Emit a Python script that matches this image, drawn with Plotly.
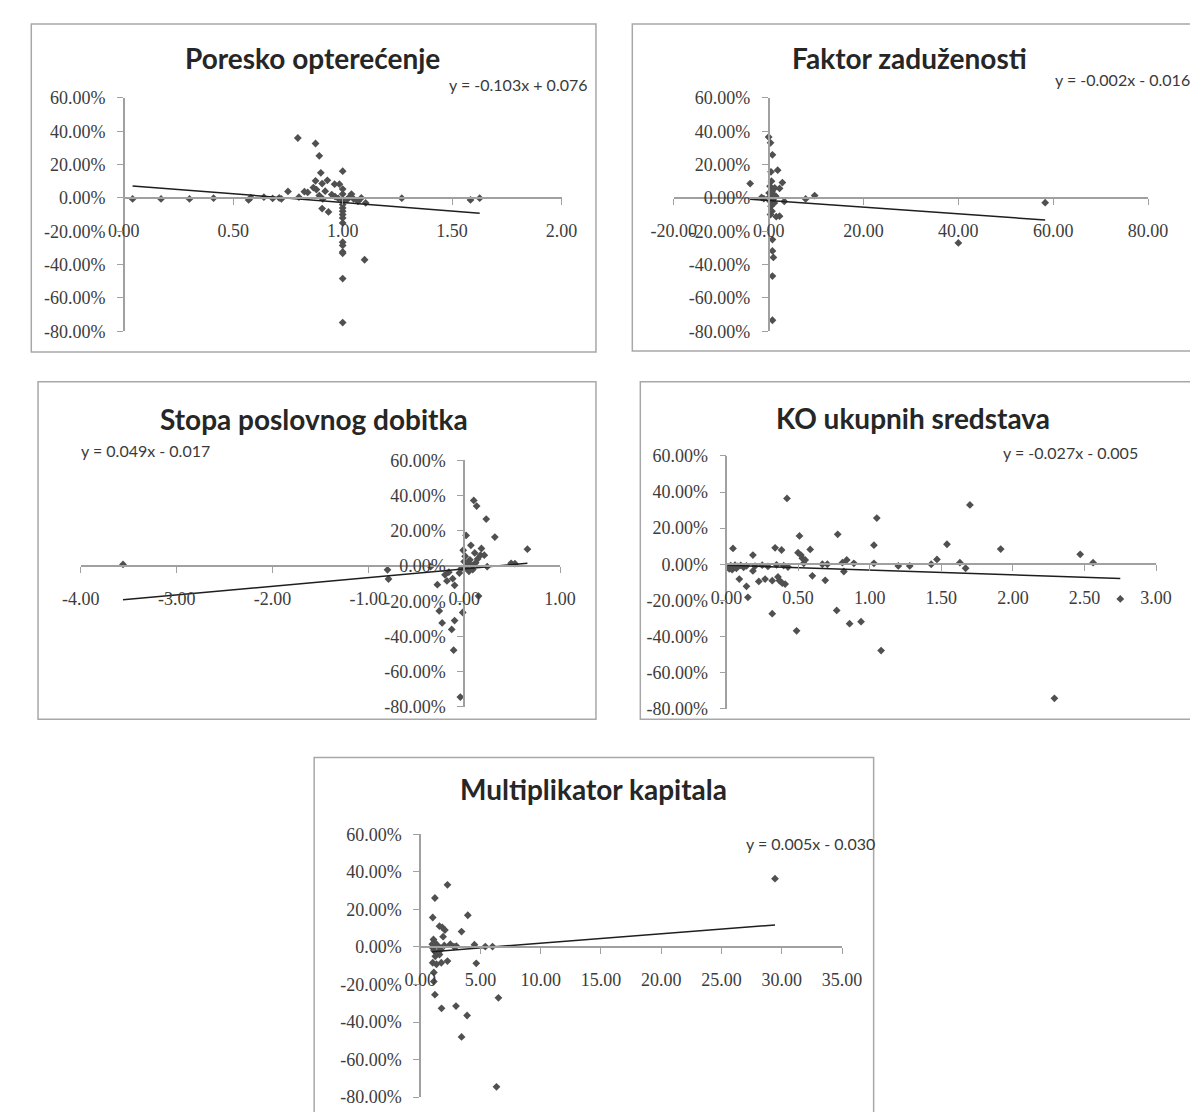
import plotly.graph_objects as go

W, H = 1198, 1112

# ---------------- data ----------------
titles = ["Poresko opterećenje", "Faktor zaduženosti", "Stopa poslovnog dobitka",
          "KO ukupnih sredstava", "Multiplikator kapitala"]
equations = ["y = -0.103x + 0.076", "y = -0.002x - 0.016", "y = 0.049x - 0.017",
             "y = -0.027x - 0.005", "y = 0.005x - 0.030"]
slopes = [-0.103, -0.002, 0.049, -0.027, 0.005]
intercepts = [0.076, -0.016, -0.017, -0.005, -0.030]

p1_x = [0.04, 0.17, 0.30, 0.41, 0.57, 0.58, 0.64, 0.68, 0.71, 0.72, 0.75, 0.80, 0.795, 0.876, 0.893,
        0.90, 0.876, 0.93, 0.906, 0.866, 0.84, 0.825, 0.963, 0.985, 0.893, 0.909, 0.906, 0.935, 0.95,
        0.965, 0.88, 0.92, 1.0, 1.0, 1.0, 1.0, 1.0, 1.0, 1.0, 1.0, 1.0, 1.0, 1.0, 1.0, 1.0, 1.0, 1.0,
        1.0, 1.10, 1.03, 1.05, 1.07, 1.085, 1.105, 1.04, 1.27, 1.584, 1.626, 0.98, 1.02]
p1_y = [-0.6, -0.6, -0.6, -0.2, -1.2, 0.2, 0.4, -0.3, 0.0, -0.6, 3.9, 0.4, 35.9, 32.6, 25.2,
        15.0, 10.2, 10.5, 8.6, 6.2, 3.3, 3.7, 8.2, 8.2, 1.4, -0.6, -6.4, -8.4, 2.0,
        0.8, 5.0, 4.0, 16.0, 5.3, 2.3, -1.6, -4.0, -6.0, -8.0, -10.0, -12.0, -15.0, -26.6, -28.5, -32.4, -33.2, -48.4,
        -74.8, -37.1, 0.4, -0.6, -2.1, 0.0, -3.0, 2.3, -0.2, -1.2, -0.2, -0.3, -1.0]

p2_x = [-3.9, 0.0, 0.4, 0.8, 1.9, 0.5, 2.9, 2.3, 0.6, 0.3, 0.7, 1.0, 0.2, 0.9, 1.2, 0.5, 0.7, 0.4,
        -1.0, -1.5, 1.5, 7.8, 9.7, 3.3, 2.3, 1.6, 0.8, 0.8, 1.0, 0.8, 0.8, 40.0, 58.3, 0.1, 0.3, 1.3]
p2_y = [8.6, 36.5, 33.0, 25.8, 16.6, 15.6, 9.2, 5.7, 10.0, 7.0, 4.0, 2.0, 0.5, -1.0, -3.0, -5.0, -8.0, -10.0,
        -0.5, 0.3, 1.0, -0.6, 1.4, -2.1, -11.0, -11.3, -25.0, -31.8, -35.7, -46.9, -73.4, -27.0, -2.9, 3.0, -2.0, 6.0]

p3_x = [-3.56, -0.80, -0.79, -0.35, -0.28, -0.26, -0.23, -0.10, -0.13, -0.11, -0.015, -0.04, -0.2, -0.16,
        -0.12, -0.1, -0.18, -0.05, -0.03, 0.10, 0.13, 0.23, 0.32, 0.02, 0.07, 0.11, 0.17, 0.18, 0.21,
        -0.01, 0.0, 0.02, 0.04, 0.06, 0.08, 0.12, 0.14, 0.09, 0.24, 0.49, 0.53, 0.66, 0.15, 0.01, 0.05]
p3_y = [0.9, -2.2, -7.4, -0.4, -10.6, -25.5, -32.3, -31.0, -36.0, -47.8, -26.4, -74.4, -5.0, -3.5,
        -7.2, -11.0, -8.5, -4.0, -1.5, 37.2, 34.0, 26.6, 16.4, 17.3, 11.7, 7.4, 6.1, 9.9, 6.1,
        8.9, 2.5, -1.0, 1.0, 3.5, 0.3, 1.8, 4.0, -2.0, -0.4, 1.5, 1.3, 9.5, -17.1, 5.5, -3.0]

p4_x = [0.046, 0.01, 0.02, 0.03, 0.04, 0.05, 0.06, 0.07, 0.08, 0.10, 0.12, 0.14, 0.09, 0.14, 0.15, 0.185,
        0.185, 0.20, 0.226, 0.25, 0.27, 0.29, 0.32, 0.32, 0.34, 0.385, 0.36, 0.37, 0.39, 0.41, 0.35, 0.40,
        0.43, 0.423, 0.49, 0.51, 0.50, 0.52, 0.53, 0.55, 0.54, 0.585, 0.60, 0.67, 0.705, 0.69, 0.77, 0.777,
        0.81, 0.84, 0.82, 0.86, 0.89, 0.94, 1.03, 1.03, 1.05, 1.08, 1.20, 1.28, 1.43, 1.47, 1.54, 1.63,
        1.67, 1.70, 1.915, 2.29, 2.47, 2.56, 2.75]
p4_y = [8.8, -1.5, -2.5, -0.8, -3.0, -1.8, -0.5, -2.2, -1.2, -0.6, -1.7, -0.9, -8.2, -12.2, -18.3, 5.1,
        -3.7, -1.0, -9.5, -0.5, -8.2, -1.2, -9.1, -27.4, 9.1, 7.9, -7.0, -9.0, -10.5, -11.0, -0.3, -0.8,
        -1.5, 36.5, -36.9, 15.7, 6.4, 5.1, 3.3, 2.4, 0.5, 8.2, -6.4, 0.0, 0.0, -8.9, -25.6, 16.6,
        0.9, 2.4, -4.0, -32.9, 0.5, -31.8, 10.6, 0.5, 25.6, -47.8, -0.9, -0.9, 0.0, 2.7, 11.1, 0.9,
        -2.2, 32.9, 8.4, -74.3, 5.5, 0.9, -19.2]

p5_x = [1.22, 1.04, 2.26, 3.95, 3.43, 1.6, 1.84, 2.05, 1.9, 1.1, 1.2, 1.3, 1.05, 1.15, 1.4, 1.25, 1.5,
        1.7, 2.0, 2.5, 2.8, 3.0, 1.04, 1.35, 1.75, 2.26, 1.13, 1.13, 1.22, 1.77, 2.97, 3.89, 3.43, 4.65,
        4.5, 5.4, 6.0, 6.49, 6.33, 29.44, 1.6, 1.0]
p5_y = [26.1, 15.7, 33.1, 16.9, 8.2, 11.1, 10.4, 9.0, 5.5, 4.0, 2.5, 1.0, -0.5, -2.0, -3.5, -5.0, 0.5,
        -1.5, 0.8, 1.5, 0.2, 0.5, -8.4, -9.2, -8.4, -7.5, -13.6, -18.4, -25.4, -32.7, -31.5, -36.5, -47.9, -8.7,
        1.2, 0.2, 0.2, -27.1, -74.5, 36.4, -4.0, 1.5]

y_tickvals = [-0.8, -0.6, -0.4, -0.2, 0.0, 0.2, 0.4, 0.6]
y_ticktext = ["-80.00%", "-60.00%", "-40.00%", "-20.00%", "0.00%", "20.00%", "40.00%", "60.00%"]

x1_ticks = [0, 0.5, 1.0, 1.5, 2.0]
x1_text = ["0.00", "0.50", "1.00", "1.50", "2.00"]
x2_ticks = [-20, 0, 20, 40, 60, 80]
x2_text = ["-20.00", "0.00", "20.00", "40.00", "60.00", "80.00"]
x3_ticks = [-4, -3, -2, -1, 0, 1]
x3_text = ["-4.00", "-3.00", "-2.00", "-1.00", "0.00", "1.00"]
x4_ticks = [0, 0.5, 1.0, 1.5, 2.0, 2.5, 3.0]
x4_text = ["0.00", "0.50", "1.00", "1.50", "2.00", "2.50", "3.00"]
x5_ticks = [0, 5, 10, 15, 20, 25, 30, 35]
x5_text = ["0.00", "5.00", "10.00", "15.00", "20.00", "25.00", "30.00", "35.00"]

xs = [p1_x, p2_x, p3_x, p4_x, p5_x]
ys = [p1_y, p2_y, p3_y, p4_y, p5_y]
xticks = [(x1_ticks, x1_text), (x2_ticks, x2_text), (x3_ticks, x3_text),
          (x4_ticks, x4_text), (x5_ticks, x5_text)]
xranges = [[0, 2], [-20, 80], [-4, 1], [0, 3], [0, 35]]

# ---------------- layout geometry (screen pixels of the reference) ----------------
OFF = 8  # page body margin added by the browser
# plot area: left / right (ends of x range), top (60%), bottom (-80%)
areas = [(104.3, 558.3, 89.3, 327.0),
         (674.7, 1166.7, 89.3, 327.0),
         (59.7, 556.7, 458.3, 709.6),
         (729.3, 1175.0, 454.0, 711.3),
         (411.7, 849.2, 839.3, 1106.9)]
boxes = [(8.3, 14, 594, 348), (631.7, 14, 1230, 347), (15.3, 378.3, 594, 722),
         (640, 378.3, 1230, 722), (301.7, 761, 882, 1140)]
title_pos = [(300, 48.3), (919.6, 49), (302, 416.7), (923, 415), (591.6, 793.3)]
eq_pos = [(588.2, 76, "right"), (1068.3, 70.7, "left"), (57.4, 448.3, "left"),
          (1013.8, 450.7, "left"), (747.3, 848.3, "left")]


def fx(p):
    return (p - OFF) / W


def fy(p):
    return 1 - (p - OFF) / H


fig = go.Figure()
TICKFONT = dict(family="Liberation Serif", size=18, color="#3c3c3c")
AXCOL = "#a0a0a0"

for i in range(5):
    n = i + 1
    sfx = "" if n == 1 else str(n)
    x = xs[i]
    y = [v / 100 for v in ys[i]]
    fig.add_trace(go.Scatter(x=x, y=y, mode="markers",
                             marker=dict(symbol="diamond", size=6, color="#505050"),
                             xaxis="x" + sfx, yaxis="y" + sfx, showlegend=False))
    x0, x1 = min(x), max(x)
    fig.add_trace(go.Scatter(x=[x0, x1],
                             y=[slopes[i] * x0 + intercepts[i], slopes[i] * x1 + intercepts[i]],
                             mode="lines", line=dict(color="#1e1e1e", width=1.5),
                             xaxis="x" + sfx, yaxis="y" + sfx, showlegend=False))
    L, R, T, B = areas[i]
    xr = xranges[i]
    yr = [-0.8, 0.6]
    zero_y_px = T + (yr[1] - 0) / (yr[1] - yr[0]) * (B - T)
    zero_x_px = L + (0 - xr[0]) / (xr[1] - xr[0]) * (R - L)
    fig.layout["xaxis" + sfx] = dict(
        domain=[fx(L), fx(R)], range=xr, anchor="free", position=fy(zero_y_px),
        showgrid=False, zeroline=False, showline=True, linecolor=AXCOL, linewidth=1.5,
        ticks="outside", ticklen=6, tickcolor=AXCOL, tickwidth=1.2,
        tickvals=xticks[i][0], ticktext=xticks[i][1], tickfont=TICKFONT,
        ticklabelstandoff=11, ticklabeloverflow="allow")
    fig.layout["yaxis" + sfx] = dict(
        domain=[fy(B), fy(T)], range=yr, anchor="free", position=fx(zero_x_px),
        showgrid=False, zeroline=False, showline=True, linecolor=AXCOL, linewidth=1.5,
        ticks="outside", ticklen=6, tickcolor=AXCOL, tickwidth=1.2,
        tickvals=y_tickvals, ticktext=y_ticktext, tickfont=TICKFONT,
        ticklabelstandoff=8, ticklabeloverflow="allow")
    bx0, by0, bx1, by1 = boxes[i]
    fig.add_shape(type="rect", xref="paper", yref="paper",
                  x0=fx(bx0), x1=fx(bx1), y0=fy(by1), y1=fy(by0),
                  line=dict(color="#a8a8a8", width=1.5), layer="below")
    tx, ty = title_pos[i]
    fig.add_annotation(x=fx(tx), y=fy(ty), xref="paper", yref="paper", text=titles[i],
                       showarrow=False, xanchor="center", yanchor="middle",
                       font=dict(family="Lato", size=28, color="#262626", weight="bold"))
    ex, ey, ea = eq_pos[i]
    fig.add_annotation(x=fx(ex), y=fy(ey), xref="paper", yref="paper", text=equations[i],
                       showarrow=False, xanchor=ea, yanchor="middle",
                       font=dict(family="Lato", size=16, color="#3a3a3a"))

fig.update_layout(width=W, height=H, margin=dict(l=0, r=0, t=0, b=0),
                  paper_bgcolor="white", plot_bgcolor="white")

fig.write_html("out.html")
